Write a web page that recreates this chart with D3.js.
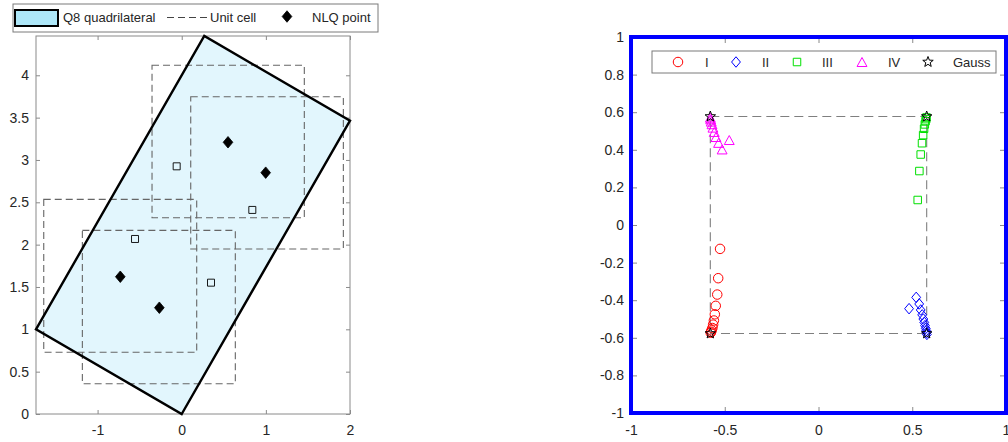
<!DOCTYPE html>
<html><head><meta charset="utf-8">
<script src="https://cdn.jsdelivr.net/npm/d3@7"></script>
<style>
body{margin:0;background:#fff}
svg{display:block;font-family:"Liberation Sans",Arial,Helvetica,sans-serif}
</style>
</head><body>
<svg id="fig" width="1008" height="442"></svg>
<script>
// ---------- Left panel: Q8 quadrilateral, unit cells and NLQ points ----------
const quadX = [0, 2, 0.268, -1.732];
const quadY = [0, 3.464, 4.464, 1];

const cellX0 = [-0.353, 0.107, -1.640, -1.181];
const cellX1 = [1.457, 1.921, 0.178, 0.637];
const cellY0 = [2.318, 1.949, 0.729, 0.358];
const cellY1 = [4.118, 3.747, 2.535, 2.169];

const nlqX = [0.550, 0.998, -0.730, -0.266];
const nlqY = [3.209, 2.850, 1.621, 1.255];

const boxPtX = [-0.060, 0.839, -0.555, 0.348];
const boxPtY = [2.925, 2.410, 2.067, 1.551];

const leftXTicks = [-1, 0, 1, 2];
const leftYTicks = [0, 0.5, 1, 1.5, 2, 2.5, 3, 3.5, 4];

// ---------- Right panel: mapped points by quadrant and Gauss points ----------
const seriesNames = ["I", "II", "III", "IV", "Gauss"];
const ptsIx = [-0.525, -0.535, -0.540, -0.548, -0.553, -0.558, -0.562, -0.566, -0.570, -0.573, -0.575];
const ptsIy = [-0.127, -0.283, -0.370, -0.430, -0.475, -0.508, -0.530, -0.548, -0.560, -0.568, -0.573];
const ptsIIx = [0.521, 0.483, 0.537, 0.545, 0.553, 0.559, 0.564, 0.568, 0.572, 0.575, 0.577, 0.578];
const ptsIIy = [-0.385, -0.445, -0.420, -0.452, -0.478, -0.500, -0.518, -0.535, -0.550, -0.562, -0.572, -0.582];
const ptsIIIx = [0.529, 0.538, 0.545, 0.552, 0.558, 0.563, 0.567, 0.571, 0.574, 0.576];
const ptsIIIy = [0.133, 0.287, 0.375, 0.435, 0.478, 0.512, 0.535, 0.552, 0.563, 0.572];
const ptsIVx = [-0.476, -0.514, -0.533, -0.547, -0.556, -0.563, -0.568, -0.572, -0.575, -0.577];
const ptsIVy = [0.452, 0.402, 0.437, 0.468, 0.495, 0.518, 0.536, 0.550, 0.562, 0.571];
const gaussX = [-0.577, 0.577, 0.577, -0.577];
const gaussY = [-0.577, -0.577, 0.577, 0.577];
const refSquare = [-0.577, 0.577];

const rightTicks = [-1, -0.8, -0.6, -0.4, -0.2, 0, 0.2, 0.4, 0.6, 0.8, 1];
const rightXTicks = [-1, -0.5, 0, 0.5, 1];

const svg = d3.select("#fig");
const txt = "#262626", axc = "#8a8a8a";
const fmt = d => String(d);

// marker shapes; the size argument is the marker's full height in px
const diamondSym = {draw(c, s){const h=s/2,w=s*0.42;c.moveTo(0,-h);c.lineTo(w,0);c.lineTo(0,h);c.lineTo(-w,0);c.closePath();}};
const squareSym = {draw(c, s){const h=s/2;c.rect(-h,-h,s,s);}};
const circleSym = {draw(c, s){const r=s/2;c.moveTo(r,0);c.arc(0,0,r,0,2*Math.PI);}};
const triSym = {draw(c, s){const w=s*0.55,h=s/2;c.moveTo(0,-h);c.lineTo(w,h);c.lineTo(-w,h);c.closePath();}};
const starSym = {draw(c, s){const R=s/2,r=R*0.42;for(let i=0;i<10;i++){const a=-Math.PI/2+i*Math.PI/5,rr=i%2?r:R;const px=Math.cos(a)*rr,py=Math.sin(a)*rr;i?c.lineTo(px,py):c.moveTo(px,py);}c.closePath();}};
const sym = (t, s) => d3.symbol().type(t).size(s)();

function styleAxis(g){
  g.select(".domain").remove();
  g.selectAll(".tick line").attr("stroke", axc);
  g.selectAll(".tick text").attr("fill", txt).attr("font-size", 14);
}

// ===== Left panel =====
{
  const x = d3.scaleLinear().domain([-1.732, 2]).range([36, 350]);
  const y = d3.scaleLinear().domain([0, 4.464]).range([414, 36]);
  const g = svg.append("g");

  g.append("rect").attr("x", 36).attr("y", 36).attr("width", 314).attr("height", 378)
    .attr("fill", "#fff").attr("stroke", axc).attr("stroke-width", 1);

  g.append("g").attr("transform", "translate(0,414)")
    .call(d3.axisBottom(x).tickValues(leftXTicks).tickFormat(fmt).tickSizeInner(-4).tickSizeOuter(0).tickPadding(11)).call(styleAxis);
  g.append("g").attr("transform", "translate(0,36)")
    .call(d3.axisTop(x).tickValues(leftXTicks).tickFormat("").tickSizeInner(-4).tickSizeOuter(0)).call(styleAxis);
  g.append("g").attr("transform", "translate(36,0)")
    .call(d3.axisLeft(y).tickValues(leftYTicks).tickFormat(fmt).tickSizeInner(-4).tickSizeOuter(0).tickPadding(7)).call(styleAxis);
  g.append("g").attr("transform", "translate(350,0)")
    .call(d3.axisRight(y).tickValues(leftYTicks).tickFormat("").tickSizeInner(-4).tickSizeOuter(0)).call(styleAxis);

  const quad = quadX.map((v, i) => [x(v), y(quadY[i])]);
  g.append("polygon").attr("points", quad.map(p => p.join(",")).join(" "))
    .attr("fill", "#e2f6fd").attr("stroke", "none");

  cellX0.forEach((v, i) => {
    g.append("rect").attr("x", x(v)).attr("y", y(cellY1[i]))
      .attr("width", x(cellX1[i]) - x(v)).attr("height", y(cellY0[i]) - y(cellY1[i]))
      .attr("fill", "none").attr("stroke", "#666").attr("stroke-width", 1.1)
      .attr("stroke-dasharray", "7,4");
  });

  g.append("polygon").attr("points", quad.map(p => p.join(",")).join(" "))
    .attr("fill", "none").attr("stroke", "#000").attr("stroke-width", 2.4).attr("stroke-linejoin", "miter");

  boxPtX.forEach((v, i) => {
    g.append("path").attr("d", sym(squareSym, 7)).attr("transform", `translate(${x(v)},${y(boxPtY[i])})`)
      .attr("fill", "none").attr("stroke", "#000").attr("stroke-width", 0.9);
  });
  nlqX.forEach((v, i) => {
    g.append("path").attr("d", sym(diamondSym, 11.5)).attr("transform", `translate(${x(v)},${y(nlqY[i])})`)
      .attr("fill", "#000").attr("stroke", "#000").attr("stroke-width", 0.8);
  });

  // legend
  const lg = svg.append("g");
  lg.append("rect").attr("x", 13).attr("y", 4).attr("width", 365).attr("height", 28)
    .attr("fill", "#fff").attr("stroke", "#7a7a7a").attr("stroke-width", 1);
  lg.append("rect").attr("x", 15).attr("y", 10).attr("width", 43).attr("height", 16)
    .attr("fill", "#aee7f8").attr("stroke", "#000").attr("stroke-width", 2);
  lg.append("text").attr("x", 63).attr("y", 22).attr("font-size", 13).attr("fill", txt).text("Q8 quadrilateral");
  lg.append("line").attr("x1", 167).attr("x2", 207).attr("y1", 17.5).attr("y2", 17.5)
    .attr("stroke", "#444").attr("stroke-width", 1.1).attr("stroke-dasharray", "7,4");
  lg.append("text").attr("x", 210).attr("y", 22).attr("font-size", 13).attr("fill", txt).text("Unit cell");
  lg.append("path").attr("d", sym(diamondSym, 11.5)).attr("transform", "translate(287,16.5)")
    .attr("fill", "#000").attr("stroke", "#000").attr("stroke-width", 0.8);
  lg.append("text").attr("x", 312).attr("y", 22).attr("font-size", 13).attr("fill", txt).text("NLQ point");
}

// ===== Right panel =====
{
  const x = d3.scaleLinear().domain([-1, 1]).range([631, 1006]);
  const y = d3.scaleLinear().domain([-1, 1]).range([413, 37]);
  const g = svg.append("g");

  g.append("g").attr("transform", "translate(0,413)")
    .call(d3.axisBottom(x).tickValues(rightXTicks).tickFormat(fmt).tickSizeInner(-6).tickSizeOuter(0).tickPadding(12)).call(styleAxis);
  g.append("g").attr("transform", "translate(0,37)")
    .call(d3.axisTop(x).tickValues(rightXTicks).tickFormat("").tickSizeInner(-6).tickSizeOuter(0)).call(styleAxis);
  g.append("g").attr("transform", "translate(631,0)")
    .call(d3.axisLeft(y).tickValues(rightTicks).tickFormat(fmt).tickSizeInner(-6).tickSizeOuter(0).tickPadding(7)).call(styleAxis);
  g.append("g").attr("transform", "translate(1006,0)")
    .call(d3.axisRight(y).tickValues(rightTicks).tickFormat("").tickSizeInner(-6).tickSizeOuter(0)).call(styleAxis);

  // reference square through the Gauss points
  g.append("rect").attr("x", x(refSquare[0])).attr("y", y(refSquare[1]))
    .attr("width", x(refSquare[1]) - x(refSquare[0])).attr("height", y(refSquare[0]) - y(refSquare[1]))
    .attr("fill", "none").attr("stroke", "#7f7f7f").attr("stroke-width", 1.1).attr("stroke-dasharray", "9,5");

  const series = [
    {xs: ptsIx, ys: ptsIy, shape: circleSym, size: 9.5, color: "#ff0000"},
    {xs: ptsIIx, ys: ptsIIy, shape: diamondSym, size: 10.5, color: "#0000ff"},
    {xs: ptsIIIx, ys: ptsIIIy, shape: squareSym, size: 7.5, color: "#00e000"},
    {xs: ptsIVx, ys: ptsIVy, shape: triSym, size: 9, color: "#ff00ff"},
    {xs: gaussX, ys: gaussY, shape: starSym, size: 11, color: "#000"}
  ];
  series.forEach(s => {
    g.append("g").selectAll("path").data(s.xs).join("path")
      .attr("d", sym(s.shape, s.size))
      .attr("transform", (v, i) => `translate(${x(v)},${y(s.ys[i])})`)
      .attr("fill", "none").attr("stroke", s.color).attr("stroke-width", 1);
  });

  // thick blue frame
  g.append("rect").attr("x", 631).attr("y", 37).attr("width", 375).attr("height", 376)
    .attr("fill", "none").attr("stroke", "#0000ff").attr("stroke-width", 4);

  // legend
  const lg = svg.append("g");
  lg.append("rect").attr("x", 652).attr("y", 51).attr("width", 344).attr("height", 22)
    .attr("fill", "#fff").attr("stroke", "#7a7a7a").attr("stroke-width", 1);
  const mx = [678, 736, 797, 862, 928];
  const tx = [705, 762, 822, 888, 953];
  series.forEach((s, i) => {
    lg.append("path").attr("d", sym(s.shape, s.size))
      .attr("transform", `translate(${mx[i]},62)`)
      .attr("fill", "none").attr("stroke", s.color).attr("stroke-width", 1);
    lg.append("text").attr("x", tx[i]).attr("y", 66.5).attr("font-size", 13).attr("fill", txt).text(seriesNames[i]);
  });
}
</script>
</body></html>
